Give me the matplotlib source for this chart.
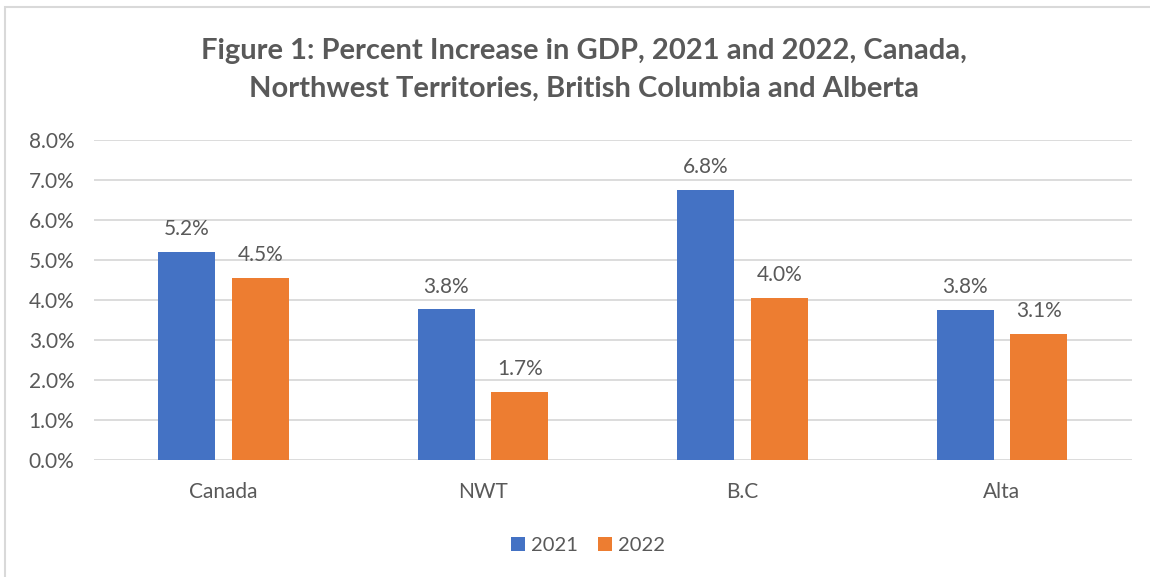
import matplotlib.pyplot as plt
import numpy as np
from matplotlib.patches import Rectangle

# datos
regions = ["Canada", "NWT", "B.C", "Alta"]
gdp_2021 = [5.2, 3.77, 6.75, 3.75]
gdp_2022 = [4.55, 1.7, 4.05, 3.15]
labels_2021 = ["5.2%", "3.8%", "6.8%", "3.8%"]
labels_2022 = ["4.5%", "1.7%", "4.0%", "3.1%"]
y_ticks = [0, 1, 2, 3, 4, 5, 6, 7, 8]

plt.rcParams["font.family"] = ["Lato", "DejaVu Sans"]
txt = "#595959"

fig = plt.figure(figsize=(11.5, 5.77), dpi=100)
fig.patches.append(Rectangle((0.004, -0.01), 1.0, 0.998, transform=fig.transFigure,
                             fill=False, edgecolor="#d9d9d9", linewidth=1.5))
ax = fig.add_axes([0.0817, 0.2028, 0.9023, 0.5546])

x = np.arange(len(regions))
b1 = ax.bar(x - 0.142, gdp_2021, width=0.22, color="#4472c4", label="2021", zorder=3)
b2 = ax.bar(x + 0.142, gdp_2022, width=0.22, color="#ed7d31", label="2022", zorder=3)

for bars, labs in [(b1, labels_2021), (b2, labels_2022)]:
    for b, lab in zip(bars, labs):
        ax.annotate(lab, (b.get_x() + b.get_width() / 2, b.get_height()),
                    xytext=(0, 9), textcoords="offset points", ha="center", va="bottom",
                    fontsize=15, color=txt)

ax.set_xlim(-0.5, 3.5)
ax.set_ylim(0, 8)
ax.set_yticks(y_ticks)
ax.set_yticklabels([f"{t:.1f}%" for t in y_ticks])
ax.set_xticks(x)
ax.set_xticklabels(regions)
ax.tick_params(axis="both", length=0, labelsize=15, labelcolor=txt)
ax.tick_params(axis="x", pad=16)
ax.tick_params(axis="y", pad=14)
ax.grid(axis="y", color="#d9d9d9", linewidth=1.3, zorder=0)
for s in ax.spines.values():
    s.set_visible(False)

fig.text(0.508, 0.879, "Figure 1: Percent Increase in GDP, 2021 and 2022, Canada,\n"
         "Northwest Territories, British Columbia and Alberta",
         ha="center", va="center", fontsize=21, fontweight="bold", color=txt,
         linespacing=1.55)

leg = fig.legend(loc="center", bbox_to_anchor=(0.511, 0.055), ncol=2, frameon=False,
                 fontsize=14.5, handlelength=0.7, handleheight=0.7, handletextpad=0.3,
                 columnspacing=1.0)
for t in leg.get_texts():
    t.set_color(txt)

plt.savefig("out.png")
